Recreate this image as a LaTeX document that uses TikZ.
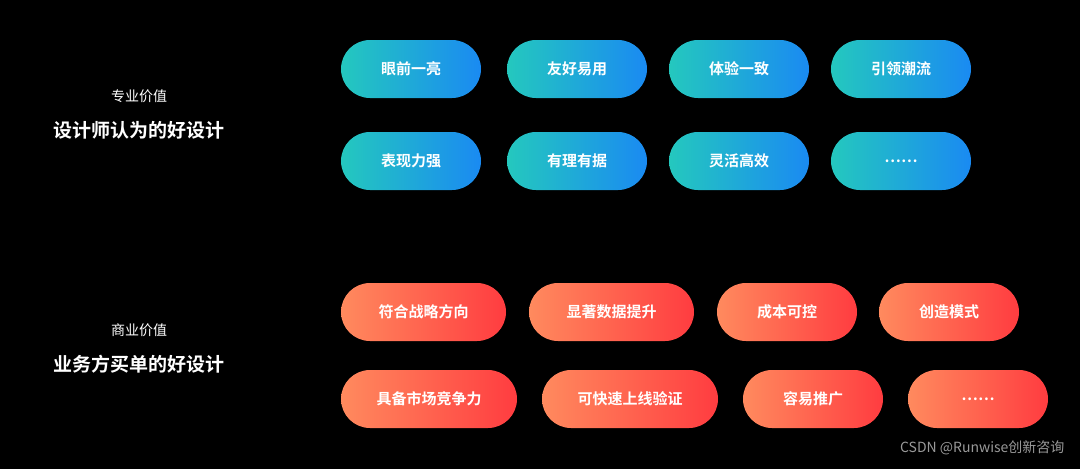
\documentclass[tikz,border=0pt]{standalone}
\usepackage{fontspec}
\setmainfont{Noto Sans CJK SC}
\newfontfamily\cjkb{Noto Sans CJK SC Bold}
\begin{document}
\begin{tikzpicture}[x=1pt,y=-1pt,
  pill/.style={rounded corners=29pt,minimum height=58pt,inner sep=0pt,text=white,font=\cjkb\fontsize{15}{18}\selectfont},
  bluep/.style={pill,left color=cyanL,right color=blueR},
  redp/.style={pill,left color=orgL,right color=redR},
  lab/.style={text=white,font=\fontsize{14}{17}\selectfont},
  head/.style={text=white,font=\cjkb\fontsize{19}{23}\selectfont}]
\definecolor{cyanL}{HTML}{24C8BE}
\definecolor{blueR}{HTML}{1A8AF2}
\definecolor{orgL}{HTML}{FF8A5E}
\definecolor{redR}{HTML}{FF3C40}
\fill[black] (0,0) rectangle (1080,469);
\useasboundingbox (0,0) rectangle (1080,469);
\node[lab] (l1) at (139,96) {专业价值};
\node[head] (h1) at (139,130) {设计师认为的好设计};
\node[lab] (l2) at (139,330) {商业价值};
\node[head] (h2) at (139,364) {业务方买单的好设计};
\node[bluep,minimum width=140pt] (a1) at (411,69) {眼前一亮};
\node[bluep,minimum width=140pt] (a2) at (577,69) {友好易用};
\node[bluep,minimum width=140pt] (a3) at (739,69) {体验一致};
\node[bluep,minimum width=140pt] (a4) at (901,69) {引领潮流};
\node[bluep,minimum width=140pt] (b1) at (411,161) {表现力强};
\node[bluep,minimum width=140pt] (b2) at (577,161) {有理有据};
\node[bluep,minimum width=140pt] (b3) at (739,161) {灵活高效};
\node[bluep,minimum width=140pt] (b4) at (901,161) {……};
\node[redp,minimum width=165pt] (c1) at (423.5,312) {符合战略方向};
\node[redp,minimum width=165pt] (c2) at (611.5,312) {显著数据提升};
\node[redp,minimum width=140pt] (c3) at (787,312) {成本可控};
\node[redp,minimum width=140pt] (c4) at (949,312) {创造模式};
\node[redp,minimum width=176pt] (d1) at (429,399) {具备市场竞争力};
\node[redp,minimum width=176pt] (d2) at (630,399) {可快速上线验证};
\node[redp,minimum width=140pt] (d3) at (813,399) {容易推广};
\node[redp,minimum width=140pt] (d4) at (978,399) {……};
\node[text=gray!80,font=\fontsize{14}{17}\selectfont,anchor=east] (w) at (1068,448) {CSDN @Runwise创新咨询};
\end{tikzpicture}
\end{document}
